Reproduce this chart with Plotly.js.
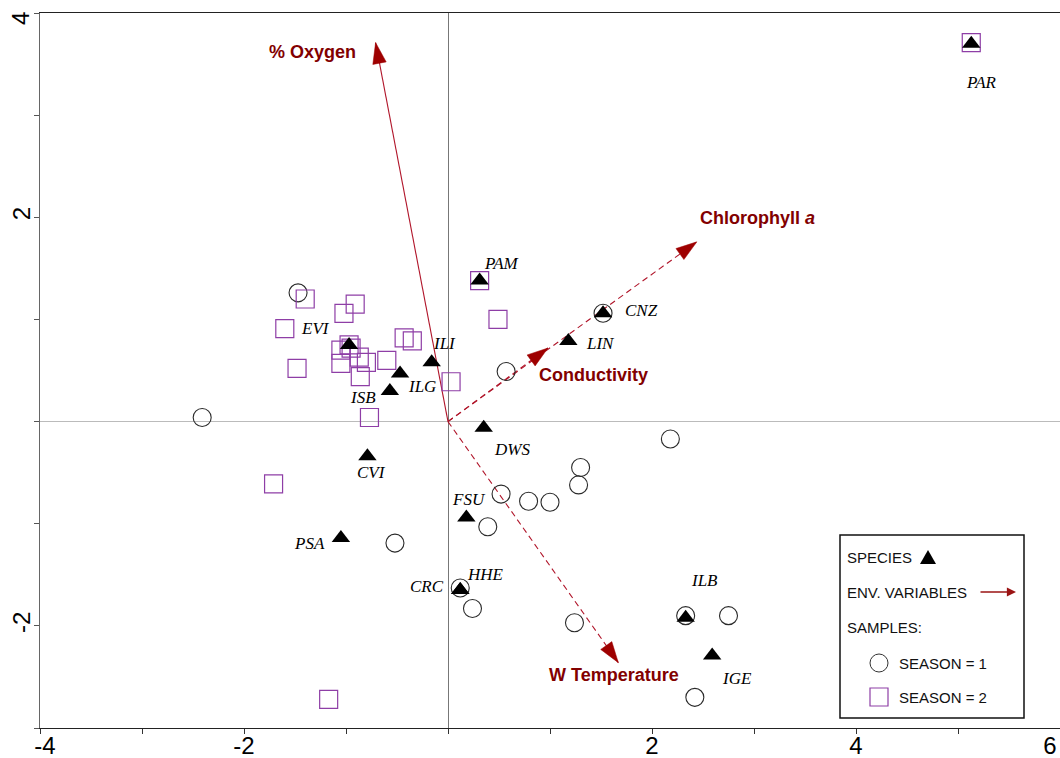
<!DOCTYPE html>
<html><head><meta charset="utf-8">
<script src="https://cdn.plot.ly/plotly-3.0.1.min.js"></script>
<style>html,body{margin:0;padding:0;background:#fff}#chart{width:1060px;height:758px}</style>
</head><body><div id="chart"></div>
<script>
// ---- data ----
const speciesNames = ['PAR','PAM','CNZ','LIN','ILI','EVI','ILG','ISB','CVI','DWS','FSU','PSA','CRC','HHE','ILB','IGE'];
const speciesX = [5.13, 0.31, 1.52, 1.18, -0.16, -0.97, -0.47, -0.57, -0.79, 0.35, 0.18, -1.05, 0.12, 0.12, 2.33, 2.59];
const speciesY = [3.70, 1.38, 1.06, 0.79, 0.58, 0.75, 0.47, 0.30, -0.34, -0.06, -0.94, -1.14, -1.65, -1.65, -1.92, -2.29];

const season1X = [-1.47, -2.41, 1.52, 0.57, 2.18, 1.30, 1.28, 0.52, 0.79, 1.00, 0.39, -0.52, 0.12, 0.24, 1.24, 2.33, 2.75, 2.42];
const season1Y = [1.26, 0.04, 1.06, 0.49, -0.17, -0.45, -0.62, -0.71, -0.78, -0.79, -1.03, -1.19, -1.63, -1.83, -1.97, -1.90, -1.90, -2.70];

const season2X = [-1.40, -1.60, -0.91, -1.02, -1.48, -0.97, -1.05, -1.05, -0.95, -0.87, -0.80, -0.86, -0.60, -0.43, -0.35, 0.03, -0.77, 0.31, 0.49, -1.71, 5.13, -1.17];
const season2Y = [1.20, 0.91, 1.15, 1.06, 0.52, 0.75, 0.70, 0.57, 0.72, 0.63, 0.58, 0.44, 0.60, 0.82, 0.79, 0.39, 0.04, 1.38, 1.00, -0.61, 3.71, -2.72];

const envNames = ['% Oxygen', 'Chlorophyll <i>a</i>', 'Conductivity', 'W Temperature'];
const envX = [-0.71, 2.44, 0.98, 1.67];
const envY = [3.71, 1.76, 0.72, -2.36];

const xTickVals = [-4, -3, -2, -1, 0, 1, 2, 3, 4, 5, 6];
const xTickText = ['', '', '-2', '', '', '', '2', '', '4', '', ''];
const xLeftTickVals = [-4], xLeftTickText = ['-4'];
const xRightTickVals = [6], xRightTickText = ['6'];
const yTickVals = [-3, -2, -1, 0, 1, 2, 3, 4];
const yTickText = ['', '-2', '', '', '', '2', '', ''];
const yEdgeLabel = '4';

// ---- styling / label placement (pixel shifts) ----
const speciesLabelShift = {
  PAR: [10, -39], PAM: [22, 17], CNZ: [38, 3], LIN: [32, -3], ILI: [13, 19], EVI: [-34, 16],
  ILG: [22, -13], ISB: [-27, -7], CVI: [4, -16], DWS: [28, -22], FSU: [3, 18], PSA: [-31, -5],
  CRC: [-33, 4], HHE: [25, 16], ILB: [19, 37], IGE: [25, -23]
};
const envLabelShift = [[-63, -9], [61, 24], [46, -27], [-4, -12]];
const envDash = ['solid', '6px,4px', '6px,4px', '6px,4px'];

const ARROW_LINE = '#b0152a';
const ARROW_HEAD = '#9e0000';
const ENV_TEXT = '#820000';
const PURPLE = '#8e3ea6';
const AXIS_FONT = {family: 'Liberation Sans, Arial, sans-serif', size: 24, color: '#000'};

const traces = [];
envNames.forEach((n, i) => {
  traces.push({
    type: 'scatter', mode: 'lines',
    x: [0, envX[i]], y: [0, envY[i]],
    line: {color: ARROW_LINE, width: 1.1, dash: envDash[i]},
    hoverinfo: 'skip', showlegend: false
  });
  traces.push({
    type: 'scatter', mode: 'markers',
    x: [0, envX[i]], y: [0, envY[i]],
    marker: {symbol: 'arrow', size: [0, 22], angleref: 'previous', color: ARROW_HEAD, opacity: 1,
             line: {width: 0.5, color: ARROW_HEAD}},
    hoverinfo: 'skip', showlegend: false
  });
});
traces.push({
  type: 'scatter', mode: 'markers', x: season1X, y: season1Y,
  marker: {symbol: 'circle-open', size: 18, color: '#2a2a2a', line: {width: 1.1, color: '#2a2a2a'}},
  showlegend: false, hoverinfo: 'skip'
});
traces.push({
  type: 'scatter', mode: 'markers', x: season2X, y: season2Y,
  marker: {symbol: 'square-open', size: 18, color: PURPLE, line: {width: 1.2, color: PURPLE}},
  showlegend: false, hoverinfo: 'skip'
});
traces.push({
  type: 'scatter', mode: 'markers', x: speciesX, y: speciesY,
  marker: {symbol: 'triangle-up', size: 16, color: '#000000', line: {width: 0}},
  showlegend: false, hoverinfo: 'skip'
});
// empty traces so that the edge-label axes are drawn
['x2', 'x3'].forEach(ax => traces.push({
  type: 'scatter', mode: 'markers', x: [null], y: [null], xaxis: ax, yaxis: 'y',
  showlegend: false, hoverinfo: 'skip'
}));

const annotations = [];
speciesNames.forEach((n, i) => {
  const s = speciesLabelShift[n];
  annotations.push({
    x: speciesX[i], y: speciesY[i], xref: 'x', yref: 'y', text: '<i>' + n + '</i>', showarrow: false,
    xshift: s[0], yshift: s[1],
    font: {family: 'Liberation Serif, Times New Roman, serif', size: 17, color: '#000'}
  });
});
envNames.forEach((n, i) => {
  annotations.push({
    x: envX[i], y: envY[i], xref: 'x', yref: 'y', text: '<b>' + n + '</b>', showarrow: false,
    xshift: envLabelShift[i][0], yshift: envLabelShift[i][1],
    font: {family: 'Liberation Sans, Arial, sans-serif', size: 18, color: ENV_TEXT}
  });
});
// top y tick label, kept inside the picture like in the reference
annotations.push({
  x: 0, y: 1, xref: 'paper', yref: 'paper', text: yEdgeLabel, showarrow: false, textangle: -90,
  xanchor: 'center', yanchor: 'middle', xshift: -20, yshift: -6, font: AXIS_FONT
});

// legend (drawn in pixel positions converted to paper coords)
const L = 40, T = 13, W = 1020, H = 715;
const px = v => (v - L) / W;
const py = v => (T + H - v) / H;
const legFont = {family: 'Liberation Sans, Arial, sans-serif', size: 15, color: '#111'};
const legendItems = [
  ['SPECIES', 845, 557], ['ENV. VARIABLES', 845, 592], ['SAMPLES:', 845, 627],
  ['SEASON = 1', 897, 663], ['SEASON = 2', 897, 697]
];
legendItems.forEach(it => annotations.push({
  x: px(it[1]), y: py(it[2]), xref: 'paper', yref: 'paper', text: it[0], showarrow: false,
  xanchor: 'left', yanchor: 'middle', font: legFont
}));
annotations.push({
  x: px(1016), y: py(592), xref: 'paper', yref: 'paper', text: '', showarrow: true,
  axref: 'pixel', ayref: 'pixel', ax: -37, ay: 0, arrowhead: 2, arrowsize: 1.4, arrowwidth: 1.3,
  arrowcolor: '#9b1414'
});

const shapes = [
  {type: 'rect', xref: 'paper', yref: 'paper', x0: px(840), x1: px(1024), y0: py(718), y1: py(535),
   line: {color: '#111', width: 1.5}, fillcolor: '#fff', layer: 'above'},
  {type: 'path', xref: 'paper', yref: 'paper',
   path: `M ${px(920)},${py(564)} L ${px(936)},${py(564)} L ${px(928)},${py(550)} Z`,
   fillcolor: '#000', line: {width: 0}, layer: 'above'},
  {type: 'circle', xref: 'paper', yref: 'paper', x0: px(870), x1: px(888), y0: py(672), y1: py(654),
   line: {color: '#333', width: 1}, layer: 'above'},
  {type: 'rect', xref: 'paper', yref: 'paper', x0: px(870), x1: px(888), y0: py(706), y1: py(688),
   line: {color: PURPLE, width: 1.2}, layer: 'above'}
];

const edgeAxis = (vals, text, shift) => ({
  overlaying: 'x', anchor: 'y', side: 'bottom', range: [-4, 6],
  tickmode: 'array', tickvals: vals, ticktext: text,
  ticks: 'outside', ticklen: 5, tickcolor: '#333', showline: false,
  showgrid: false, zeroline: false, ticklabelstandoff: -9, ticklabelshift: shift,
  tickfont: AXIS_FONT
});

const layout = {
  width: 1060, height: 758,
  margin: {l: 40, r: 0, t: 13, b: 30},
  paper_bgcolor: '#fff', plot_bgcolor: '#fff',
  showlegend: false, hovermode: false,
  xaxis: {
    range: [-4, 6], tickmode: 'array', tickvals: xTickVals, ticktext: xTickText,
    ticks: 'outside', ticklen: 5, tickcolor: '#333', showgrid: false,
    showline: true, linecolor: '#222', linewidth: 1.3, mirror: true,
    zeroline: true, zerolinecolor: '#777', zerolinewidth: 1,
    ticklabelstandoff: -9,
    tickfont: AXIS_FONT
  },
  xaxis2: edgeAxis(xLeftTickVals, xLeftTickText, 5),
  xaxis3: edgeAxis(xRightTickVals, xRightTickText, -10),
  yaxis: {
    range: [-3, 4], tickmode: 'array', tickvals: yTickVals, ticktext: yTickText,
    ticks: 'outside', ticklen: 5, tickcolor: '#555', showgrid: false, tickangle: -90,
    showline: true, linecolor: '#666', linewidth: 1,
    zeroline: true, zerolinecolor: '#bbb', zerolinewidth: 1,
    ticklabelstandoff: -6,
    tickfont: AXIS_FONT
  },
  annotations: annotations, shapes: shapes
};

Plotly.newPlot('chart', traces, layout, {staticPlot: true, displayModeBar: false});
</script>
</body></html>
